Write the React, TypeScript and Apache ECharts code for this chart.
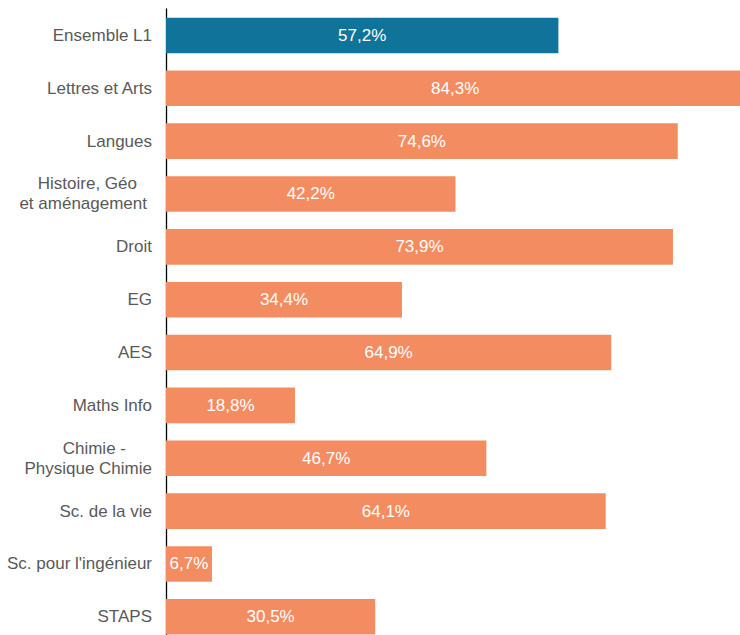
import React, { useEffect, useRef } from "react";
import * as echarts from "echarts";

const categories: string[] = [
  "Ensemble L1",
  "Lettres et Arts",
  "Langues",
  "Histoire, Géo\net aménagement",
  "Droit",
  "EG",
  "AES",
  "Maths Info",
  "Chimie -\nPhysique Chimie",
  "Sc. de la vie",
  "Sc. pour l'ingénieur",
  "STAPS",
];

const values: number[] = [57.2, 84.3, 74.6, 42.2, 73.9, 34.4, 64.9, 18.8, 46.7, 64.1, 6.7, 30.5];

const highlighted: string[] = ["Ensemble L1"];

const BLUE = "#107399";
const ORANGE = "#F48C61";
const FONT = "'Liberation Sans Narrow', 'Arial Narrow', 'Liberation Sans', Arial, sans-serif";

export default function App() {
  const ref = useRef<HTMLDivElement>(null);

  useEffect(() => {
    if (!ref.current) return;
    const chart = echarts.init(ref.current, undefined, { renderer: "svg" });

    const labelFormatter = (v: string) => {
      if (v === "Histoire, Géo\net aménagement") {
        return "{a|Histoire, Géo}\n{b|et aménagement}";
      }
      if (v === "Chimie -\nPhysique Chimie") {
        return "{c|Chimie -}\n{d|Physique Chimie}";
      }
      return v;
    };

    const base = { fontFamily: FONT, fontSize: 17, color: "#595959", lineHeight: 20 };

    chart.setOption({
      animation: false,
      grid: {
        left: 166,
        top: 9,
        width: 686,
        height: 634.2,
        containLabel: false,
        outerBoundsMode: "none",
      },
      xAxis: {
        type: "value",
        min: 0,
        max: 100,
        show: false,
        splitLine: { show: false },
      },
      yAxis: {
        type: "category",
        inverse: true,
        data: categories,
        axisLine: { show: true, lineStyle: { color: "#000", width: 1.3 } },
        axisTick: { show: false },
        axisLabel: {
          margin: 14,
          ...base,
          formatter: labelFormatter,
          rich: {
            a: { ...base, padding: [0, 15, 0, 0] },
            b: { ...base, padding: [0, 5, 0, 0] },
            c: { ...base, padding: [0, 26, 0, 0] },
            d: { ...base },
          },
        },
      },
      series: [
        {
          type: "bar",
          barWidth: 35.6,
          data: values.map((v, i) => ({
            value: v,
            itemStyle: { color: highlighted.includes(categories[i]) ? BLUE : ORANGE },
          })),
          label: {
            show: true,
            position: "inside",
            color: "#fff",
            fontFamily: FONT,
            fontSize: 17,
            formatter: (p: any) => p.value.toFixed(1).replace(".", ",") + "%",
          },
        },
      ],
    });

    return () => chart.dispose();
  }, []);

  return (
    <div
      ref={ref}
      style={{ position: "absolute", left: 0, top: 0, width: 740, height: 635, overflow: "hidden" }}
    />
  );
}
